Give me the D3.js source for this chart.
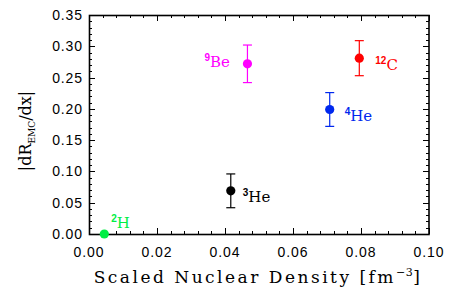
<!DOCTYPE html>
<html><head><meta charset="utf-8">
<script src="https://cdn.jsdelivr.net/npm/d3@7"></script>
<style>body{margin:0;background:#fff}svg{display:block}</style>
</head><body>
<script>
const nuclei = ["2H","3He","4He","9Be","12C"];
const labelMass = ["2","3","4","9","12"];
const labelSym = ["H","He","He","Be","C"];
const density = [0.0045, 0.0417, 0.0708, 0.0466, 0.0795];
const slope = [0.000, 0.069, 0.199, 0.272, 0.281];
const slopeErr = [0, 0.027, 0.027, 0.030, 0.028];
const colors = ["#00ee44","#000000","#0028ee","#ff00ff","#ff0000"];
const xTicks = [0,0.02,0.04,0.06,0.08,0.10];
const yTicks = [0,0.05,0.10,0.15,0.20,0.25,0.30,0.35];

const W=454,H=299;
const svg=d3.select("body").append("svg").attr("width",W).attr("height",H);
const x=d3.scaleLinear().domain([0,0.10]).range([89,429]);
const y=d3.scaleLinear().domain([0,0.35]).range([234,15]);

const xMinor=d3.range(0,0.1001,0.004);
const yMinor=d3.range(0,0.3501,0.01);
const g=svg.append("g").attr("stroke","#000").attr("stroke-width",1);
xMinor.forEach(v=>{const px=Math.round(x(v))+0.5;
  g.append("line").attr("x1",px).attr("x2",px).attr("y1",234).attr("y2",231);
  g.append("line").attr("x1",px).attr("x2",px).attr("y1",15).attr("y2",18);});
yMinor.forEach(v=>{const py=Math.round(y(v))+0.5;
  g.append("line").attr("x1",89).attr("x2",92).attr("y1",py).attr("y2",py);
  g.append("line").attr("x1",429).attr("x2",426).attr("y1",py).attr("y2",py);});
xTicks.forEach(v=>{const px=Math.round(x(v))+0.5;
  g.append("line").attr("x1",px).attr("x2",px).attr("y1",234).attr("y2",228);
  g.append("line").attr("x1",px).attr("x2",px).attr("y1",15).attr("y2",21);});
yTicks.forEach(v=>{const py=Math.round(y(v))+0.5;
  g.append("line").attr("x1",89).attr("x2",95).attr("y1",py).attr("y2",py);
  g.append("line").attr("x1",429).attr("x2",423).attr("y1",py).attr("y2",py);});
svg.append("rect").attr("x",89.5).attr("y",15.5).attr("width",339.5).attr("height",219)
  .attr("fill","none").attr("stroke","#000").attr("stroke-width",1.6);

svg.append("g").selectAll("text").data(xTicks).join("text")
  .attr("x",d=>x(d)).attr("y",257).attr("text-anchor","middle")
  .attr("font-family","Liberation Sans, Arial, sans-serif").attr("font-size",14).attr("letter-spacing",0.9)
  .text(d=>d3.format(".2f")(d));
svg.append("g").selectAll("text").data(yTicks).join("text")
  .attr("x",83).attr("y",d=>y(d)+5).attr("text-anchor","end")
  .attr("font-family","Liberation Sans, Arial, sans-serif").attr("font-size",14).attr("letter-spacing",0.9)
  .text(d=>d3.format(".2f")(d));

const xt=svg.append("text").attr("x",258).attr("y",283).attr("text-anchor","middle")
  .attr("font-family","DejaVu Serif, serif").attr("font-size",17).attr("letter-spacing",2.5);
xt.append("tspan").text("Scaled Nuclear Density [fm");
xt.append("tspan").attr("dy",-7).attr("font-size",11).attr("letter-spacing",0.5).text("−3");
xt.append("tspan").attr("dy",7).text("]");

const yt=svg.append("text").attr("transform","translate(31,131) rotate(-90)").attr("text-anchor","middle")
  .attr("font-family","DejaVu Serif, serif").attr("font-size",16);
yt.append("tspan").text("|dR");
yt.append("tspan").attr("dy",4).attr("font-size",9).text("EMC");
yt.append("tspan").attr("dy",-4).text("/dx|");

const pts=nuclei.map((n,i)=>({n,i,x:density[i],y:slope[i],e:slopeErr[i],c:colors[i]}));
const pg=svg.append("g");
pts.forEach(p=>{
  const cx=x(p.x), cy=y(p.y);
  if(p.e>0){
    const y1=y(p.y+p.e), y2=y(p.y-p.e);
    pg.append("line").attr("x1",cx).attr("x2",cx).attr("y1",y1).attr("y2",y2).attr("stroke",p.c).attr("stroke-width",1.2);
    [y1,y2].forEach(yy=>pg.append("line").attr("x1",cx-4.5).attr("x2",cx+4.5).attr("y1",yy).attr("y2",yy).attr("stroke",p.c).attr("stroke-width",1.2));
  }
  pg.append("circle").attr("cx",cx).attr("cy",cy).attr("r",4.6).attr("fill",p.c);
});
const off={ "2H":[7,-6], "3He":[12,11], "4He":[15,12], "9Be":[-43,3], "12C":[16,12] };
pts.forEach(p=>{
  const o=off[p.n];
  const t=pg.append("text").attr("x",x(p.x)+o[0]).attr("y",y(p.y)+o[1]).attr("fill",p.c)
    .attr("font-family","DejaVu Serif, serif").attr("font-size",15);
  t.append("tspan").attr("dy",-6).attr("font-size",10).attr("font-weight","bold")
    .attr("font-family","Liberation Sans, Arial, sans-serif").text(labelMass[p.i]);
  t.append("tspan").attr("dy",6).text(labelSym[p.i]);
});
</script>
</body></html>
